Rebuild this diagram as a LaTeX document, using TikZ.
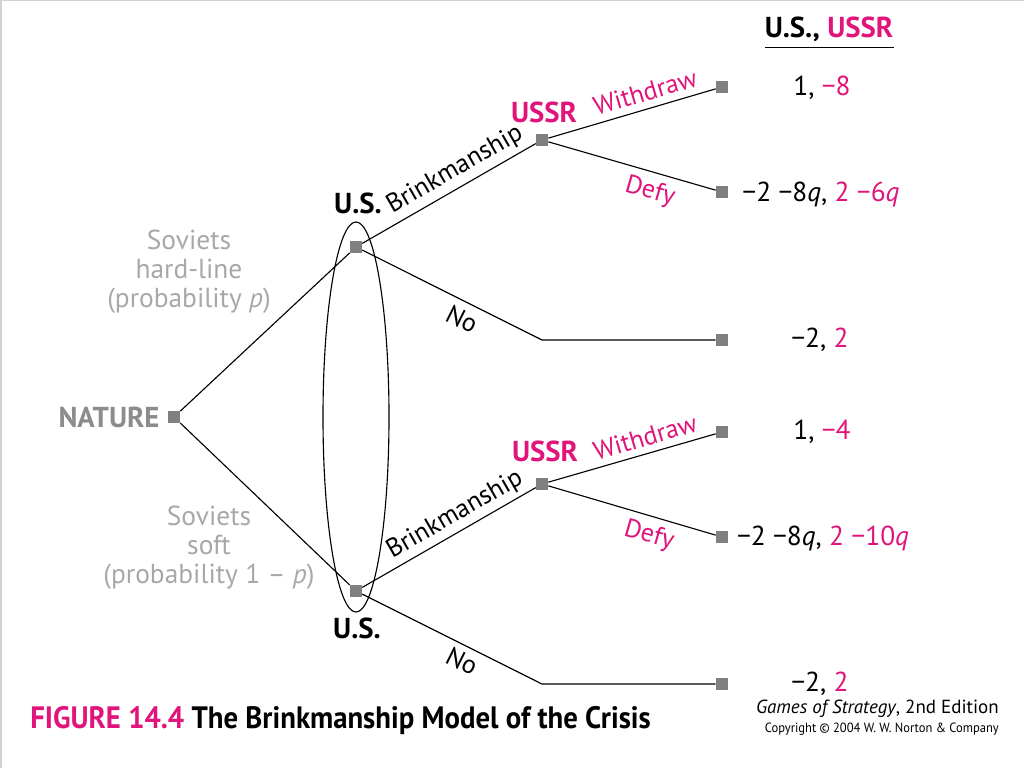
\documentclass[tikz,border=0pt]{standalone}
\usepackage{fontspec}
\setmainfont{PT Sans}
\usepackage{graphicx}

\definecolor{ussrpink}{RGB}{224,20,122}
\definecolor{boxgray}{RGB}{128,128,128}
\definecolor{naturegray}{RGB}{140,140,140}
\definecolor{probgray}{RGB}{168,168,168}

\begin{document}
\begin{tikzpicture}[x=0.025cm, y=-0.025cm,
	move/.style={rectangle, fill=boxgray, minimum size=0.3cm, inner sep=0pt},
	branch/.style={line width=0.8pt},
	txt/.style={font=\fontsize{19.5}{20.5}\selectfont, inner sep=0pt},
	act/.style={font=\fontsize{18.5}{20}\selectfont, inner sep=0pt},
	player/.style={font=\fontsize{20.5}{22}\selectfont\bfseries, inner sep=0pt},
	payoff/.style={txt}]

		\useasboundingbox (0,0) rectangle (1024,768);
		\draw[gray!35, line width=1pt] (1,768) -- (1,0.5) -- (1024,0.5);

		% decision nodes
		\node[move] (nature) at (174, 417) {};
		\node[move] (usH) at (356, 247) {};
		\node[move] (usS) at (356, 591) {};
		\node[move] (ussrH) at (542, 140) {};
		\node[move] (ussrS) at (542, 484) {};
		\coordinate (noH) at (542, 340);
		\coordinate (noS) at (542, 684);

		% terminal nodes
		\node[move] (wH) at (722, 87) {};
		\node[move] (dH) at (722, 192) {};
		\node[move] (nH) at (722, 340) {};
		\node[move] (wS) at (722, 432) {};
		\node[move] (dS) at (722, 537) {};
		\node[move] (nS) at (722, 684) {};

		\draw[branch] (nature) -- (usH);
		\draw[branch] (nature) -- (usS);
		\draw[branch] (usH) -- (ussrH);
		\draw[branch] (usS) -- (ussrS);
		\draw[branch] (usH) -- (noH) -- (nH);
		\draw[branch] (usS) -- (noS) -- (nS);
		\draw[branch] (ussrH) -- (wH);
		\draw[branch] (ussrH) -- (dH);
		\draw[branch] (ussrS) -- (wS);
		\draw[branch] (ussrS) -- (dS);

		% information set
		\draw[line width=0.8pt] (356, 417) ellipse [x radius=0.825cm, y radius=4.875cm];

		% players
		\node[player, text=naturegray] (natureL) at (109, 417) {NATURE};
		\node[player] (usHL) at (358, 203) {U.S.};
		\node[player] (usSL) at (357, 628) {U.S.};
		\node[player, text=ussrpink] (ussrHL) at (544, 112) {USSR};
		\node[player, text=ussrpink] (ussrSL) at (545, 451) {USSR};

		% moves of nature
		\node[txt, text=probgray, align=center] (hard) at (189, 272) {Soviets\\hard-line\\(probability \textit{p})};
		\node[txt, text=probgray, align=center] (soft) at (209, 548) {Soviets\\soft\\(probability 1 – \textit{p})};

		% actions
		\node[act, rotate=29.9] (brinkH) at (455, 170) {Brinkmanship};
		\node[act, rotate=29.9] (brinkS) at (455, 515) {Brinkmanship};
		\node[act, rotate=-26.6] (noHL) at (462, 319) {No};
		\node[act, rotate=-26.6] (noSL) at (462, 661) {No};
		\node[act, text=ussrpink, rotate=16.4] (wHL) at (645, 92) {Withdraw};
		\node[act, text=ussrpink, rotate=-16.1] (dHL) at (650, 192) {Defy};
		\node[act, text=ussrpink, rotate=16.4] (wSL) at (645, 437) {Withdraw};
		\node[act, text=ussrpink, rotate=-16.1] (dSL) at (649, 536) {Defy};

		% payoffs
		\node[player] (head) at (829, 29) {U.S., \textcolor{ussrpink}{USSR}};
		\draw[line width=0.9pt] ([yshift=-4pt]head.south west) -- ([yshift=-4pt]head.south east);
		\node[payoff] (pW1) at (822, 88) {1, \textcolor{ussrpink}{−8}};
		\node[payoff] (pD1) at (821, 194) {−2 −8\textit{q}, \textcolor{ussrpink}{2 −6\textit{q}}};
		\node[payoff] (pN1) at (820, 340) {−2, \textcolor{ussrpink}{2}};
		\node[payoff] (pW2) at (822, 432) {1, \textcolor{ussrpink}{−4}};
		\node[payoff] (pD2) at (823, 538) {−2 −8\textit{q}, \textcolor{ussrpink}{2 −10\textit{q}}};
		\node[payoff] (pN2) at (820, 684) {−2, \textcolor{ussrpink}{2}};

		% caption
		\node[inner sep=0pt, anchor=west] (caption) at (30, 721)
			{\scalebox{0.93}[1]{\fontsize{22}{25}\selectfont\bfseries\textcolor{ussrpink}{FIGURE 14.4} The Brinkmanship Model of the Crisis}};
		\node[inner sep=0pt, anchor=east] (book) at (999, 709)
			{\fontsize{13.5}{15}\selectfont\textit{Games of Strategy}, 2nd Edition};
		\node[inner sep=0pt, anchor=east] (copy) at (999, 729)
			{\scalebox{0.94}[1]{\fontsize{9.5}{11}\selectfont Copyright © 2004 W. W. Norton \& Company}};

\end{tikzpicture}
\end{document}
